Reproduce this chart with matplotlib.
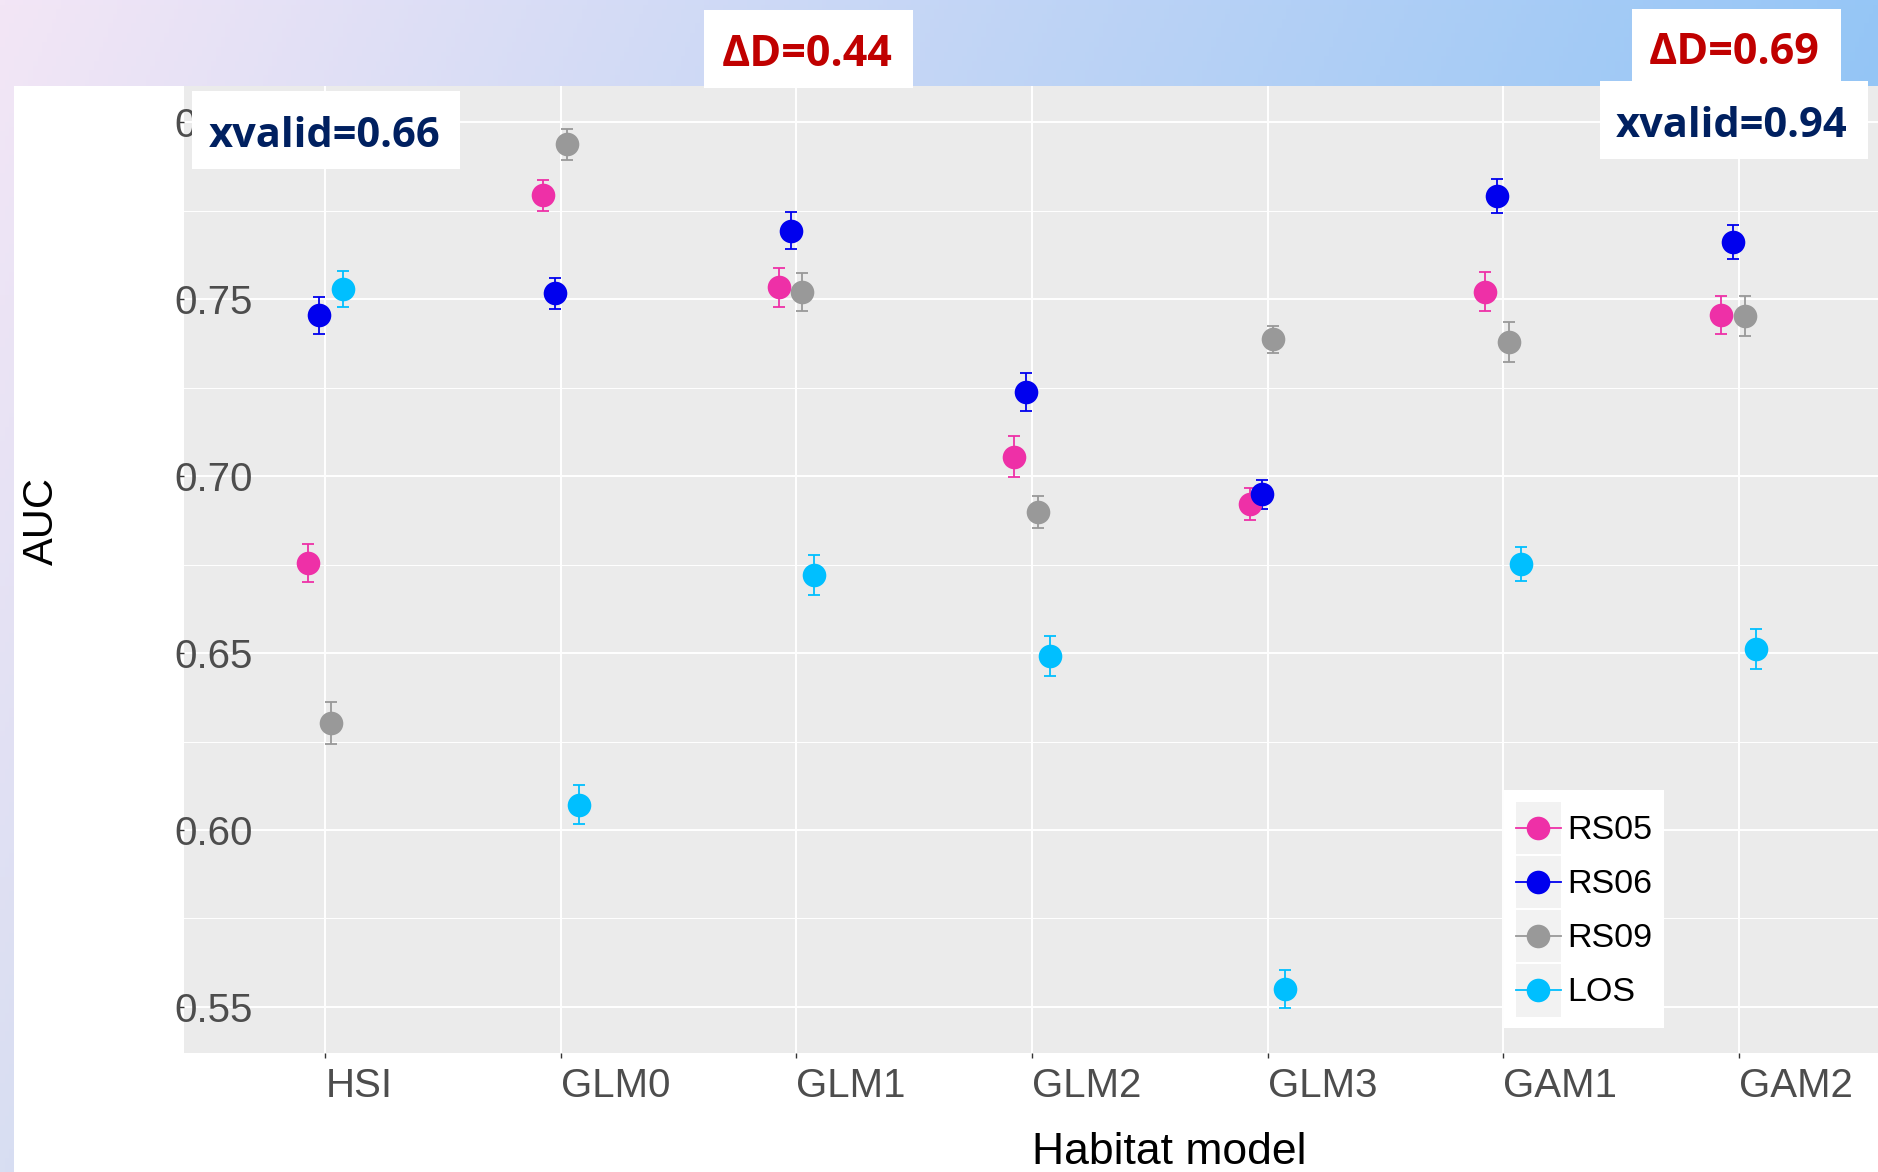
import numpy as np
import matplotlib
matplotlib.use("Agg")
import matplotlib.pyplot as plt
from matplotlib.patches import Rectangle
from matplotlib.lines import Line2D
from matplotlib.legend_handler import HandlerLine2D

plt.rcParams['font.family'] = ['Liberation Sans', 'DejaVu Sans']

# data
models = ["HSI", "GLM0", "GLM1", "GLM2", "GLM3", "GAM1", "GAM2"]
series = ["RS05", "RS06", "RS09", "LOS"]
colors = ["#EE30A7", "#0000EE", "#999999", "#00BFFF"]

auc_rs05 = [0.6755, 0.7793, 0.7533, 0.7055, 0.6921, 0.7521, 0.7455]
auc_rs06 = [0.7454, 0.7516, 0.7693, 0.7238, 0.6948, 0.7791, 0.7662]
auc_rs09 = [0.6302, 0.7937, 0.7520, 0.6899, 0.7387, 0.7378, 0.7452]
auc_los = [0.7529, 0.6072, 0.6721, 0.6491, 0.5551, 0.6752, 0.6512]

err_rs05 = [0.0053, 0.0043, 0.0054, 0.0057, 0.0046, 0.0055, 0.0053]
err_rs06 = [0.0052, 0.0043, 0.0052, 0.0053, 0.0042, 0.0047, 0.0048]
err_rs09 = [0.0060, 0.0043, 0.0053, 0.0046, 0.0038, 0.0057, 0.0056]
err_los = [0.0051, 0.0055, 0.0056, 0.0056, 0.0053, 0.0048, 0.0056]

yticks = [0.55, 0.60, 0.65, 0.70, 0.75, 0.80]
ytick_labels = ["0.55", "0.60", "0.65", "0.70", "0.75", "0.80"]

W, H = 1878, 1172
fig = plt.figure(figsize=(W / 100, H / 100), dpi=100)

# slide background: gradient band on top/left, white content area
bg = fig.add_axes([0, 0, 1, 1], zorder=-5)
bg.axis('off')
u = np.linspace(0, 1, 400)[None, :, None]
v = np.linspace(0, 1, 250)[:, None, None]
c0 = np.array([243, 230, 246]) / 255
c1 = np.array([150, 198, 246]) / 255
c2 = np.array([216, 222, 242]) / 255
grad = np.clip(c0 + (c1 - c0) * u + (c2 - c0) * v, 0, 1)
bg.imshow(grad, extent=[0, W, H, 0], aspect='auto')
bg.add_patch(Rectangle((14, 86), W, H, facecolor='white', edgecolor='none'))
bg.set_xlim(0, W)
bg.set_ylim(H, 0)

# main panel
ax = fig.add_axes([184 / W, (H - 1053) / H, (1880 - 184) / W, (1053 - 86) / H])
ax.set_facecolor('#EBEBEB')
for s in ax.spines.values():
    s.set_visible(False)

x = np.arange(1, len(models) + 1)
offsets = [-0.075, -0.025, 0.025, 0.075]
all_auc = [auc_rs05, auc_rs06, auc_rs09, auc_los]
all_err = [err_rs05, err_rs06, err_rs09, err_los]

for vals, errs, col, off in zip(all_auc, all_err, colors, offsets):
    ax.errorbar(x + off, vals, yerr=errs, fmt='none', ecolor=col,
                elinewidth=1.3, capsize=4.3, capthick=1.3, zorder=3)
for vals, col, off in zip(all_auc, colors, offsets):
    ax.plot(x + off, vals, 'o', color=col, ms=17, mew=0, zorder=4)

ax.set_xlim(0.4, 7.6)
ax.set_ylim(0.537, 0.8102)
ax.set_xticks(x)
ax.set_xticklabels(models, fontsize=29, color='#4D4D4D', ha='left')
ax.set_yticks(yticks)
ax.set_yticklabels(ytick_labels, fontsize=29, color='#4D4D4D', ha='left')
ax.set_yticks(np.arange(0.575, 0.80, 0.05), minor=True)
ax.tick_params(axis='x', length=3.6, width=1, color='#333333', pad=6.5)
ax.tick_params(axis='y', length=4.3, width=1, color='#333333', pad=2.9)
ax.tick_params(which='minor', length=0)
ax.set_axisbelow(True)
ax.grid(which='major', color='white', lw=1.4)
ax.grid(which='minor', axis='y', color='white', lw=0.7)


class KeyHandler(HandlerLine2D):
    # grey key background with the point and line centred in it
    def create_artists(self, legend, orig_handle, xdescent, ydescent,
                       width, height, fontsize, trans):
        key_bg = Rectangle((-xdescent, -ydescent), width, height,
                           facecolor='#F2F2F2', edgecolor='none', transform=trans)
        arts = super().create_artists(legend, orig_handle, xdescent, ydescent,
                                      width, height, fontsize, trans)
        for a in arts:
            if isinstance(a, Line2D):
                a.set_ydata(np.full_like(a.get_xdata(), height / 2 - ydescent))
        return [key_bg] + list(arts)


handles = [Line2D([], [], color=c, marker='o', ms=17, mew=0, lw=1.3) for c in colors]
leg = ax.legend(handles, series, loc='upper left',
                bbox_to_anchor=(1504 / W, 1 - 790 / H), bbox_transform=fig.transFigure,
                borderaxespad=0, fontsize=24.5, frameon=True, fancybox=False,
                framealpha=1, edgecolor='none', facecolor='white',
                handlelength=1.32, handleheight=1.98, labelspacing=0.06,
                handletextpad=0.18, borderpad=0.35,
                handler_map={Line2D: KeyHandler(marker_pad=0.1, numpoints=1)})
leg.set_zorder(6)

# overlay in pixel coordinates for titles and annotation boxes
ov = fig.add_axes([0, 0, 1, 1], zorder=5)
ov.axis('off')
ov.set_xlim(0, W)
ov.set_ylim(H, 0)

ov.text(42, 565, "AUC", rotation=90, ha='center', va='bottom', fontsize=30, color='black')
ov.text(1032, 1164, "Habitat model", ha='left', va='baseline', fontsize=32, color='black')

boxes = [
    ((192, 91, 268, 78), "xvalid=0.66", 324.5, 147, '#002060', 30),
    ((704, 10, 209, 78), "ΔD=0.44", 807, 66, '#C00000', 31),
    ((1632, 9, 209, 74), "ΔD=0.69", 1734.5, 64, '#C00000', 31),
    ((1600, 81, 268, 78), "xvalid=0.94", 1732, 137, '#002060', 30),
]
for (bx, by, bw, bh), label, tx, ty, col, fs in boxes:
    ov.add_patch(Rectangle((bx, by), bw, bh, facecolor='white', edgecolor='none'))
    ov.text(tx, ty, label, ha='center', va='baseline', fontsize=fs,
            fontweight='bold', family=['Open Sans', 'DejaVu Sans'], color=col)

fig.savefig("out.png", dpi=100)
plt.close(fig)
